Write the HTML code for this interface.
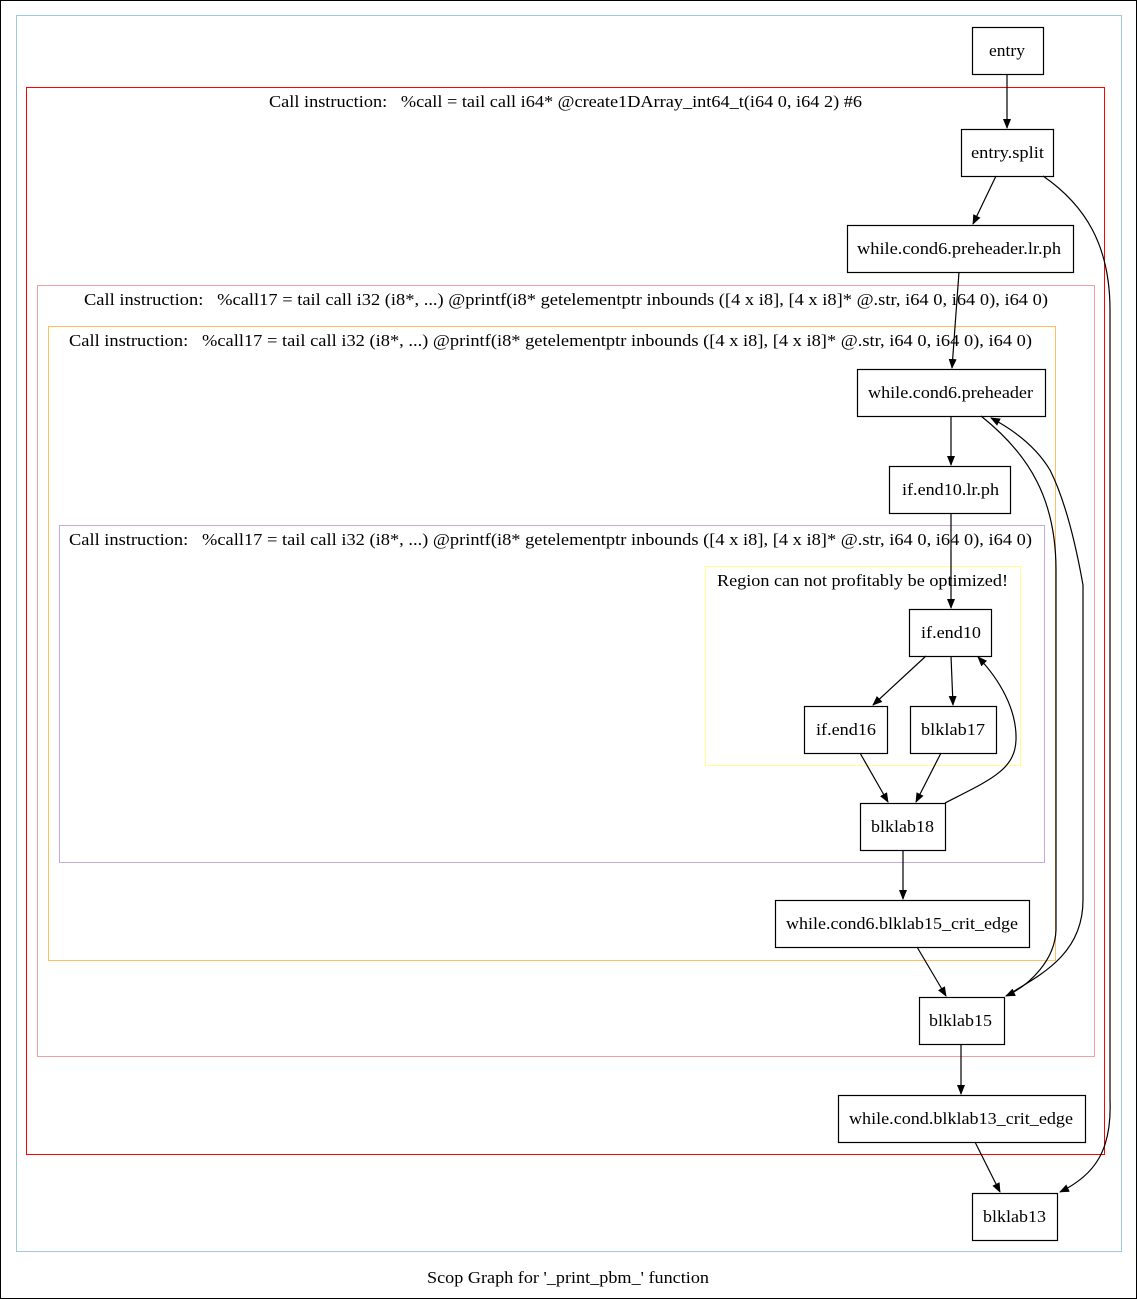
<!DOCTYPE html>
<html><head><meta charset="utf-8"><style>
html,body{margin:0;padding:0;background:#fff;}
svg{display:block;}
text{font-family:"Liberation Serif",serif;font-size:17px;fill:#000;white-space:pre;}
</style></head><body>
<svg width="1137" height="1299" viewBox="0 0 1137 1299" xmlns="http://www.w3.org/2000/svg" xml:space="preserve">
<defs><marker id="a" markerWidth="10" markerHeight="8" refX="9" refY="4" orient="auto" markerUnits="userSpaceOnUse"><path d="M0,0 L10,4 L0,8 z" fill="#000"/></marker></defs>
<rect x="0.5" y="0.5" width="1136" height="1298" fill="#fff" stroke="#000"/>
<rect x="16.5" y="15.5" width="1105" height="1236" fill="none" stroke="#9ecae1"/>
<rect x="26.5" y="87.5" width="1078" height="1067" fill="none" stroke="#ff0000"/>
<text x="269" y="107" textLength="593" lengthAdjust="spacingAndGlyphs">Call instruction:   %call = tail call i64* @create1DArray_int64_t(i64 0, i64 2) #6</text>
<rect x="37.5" y="285.5" width="1057" height="771" fill="none" stroke="#f0a0a0"/>
<text x="84" y="305" textLength="964" lengthAdjust="spacingAndGlyphs">Call instruction:   %call17 = tail call i32 (i8*, ...) @printf(i8* getelementptr inbounds ([4 x i8], [4 x i8]* @.str, i64 0, i64 0), i64 0)</text>
<rect x="48.5" y="326.5" width="1007" height="634" fill="none" stroke="#ffc060"/>
<text x="69" y="346" textLength="963" lengthAdjust="spacingAndGlyphs">Call instruction:   %call17 = tail call i32 (i8*, ...) @printf(i8* getelementptr inbounds ([4 x i8], [4 x i8]* @.str, i64 0, i64 0), i64 0)</text>
<rect x="59.5" y="525.5" width="985" height="337" fill="none" stroke="#c8a8e0"/>
<text x="69" y="545" textLength="963" lengthAdjust="spacingAndGlyphs">Call instruction:   %call17 = tail call i32 (i8*, ...) @printf(i8* getelementptr inbounds ([4 x i8], [4 x i8]* @.str, i64 0, i64 0), i64 0)</text>
<rect x="705.5" y="566.5" width="315" height="199" fill="none" stroke="#ffff90"/>
<text x="717" y="586" textLength="291" lengthAdjust="spacingAndGlyphs">Region can not profitably be optimized!</text>

<g fill="none" stroke="#000" stroke-width="1.2">
<rect x="972.5" y="27.5" width="71" height="47"/>
<rect x="961.5" y="129.5" width="92" height="47"/>
<rect x="847.5" y="225.5" width="226" height="47"/>
<rect x="857.5" y="369.5" width="188" height="47"/>
<rect x="889.5" y="466.5" width="121" height="47"/>
<rect x="909.5" y="609.5" width="82" height="47"/>
<rect x="804.5" y="706.5" width="83" height="47"/>
<rect x="910.5" y="706.5" width="86" height="47"/>
<rect x="860.5" y="803.5" width="85" height="47"/>
<rect x="775.5" y="900.5" width="254" height="47"/>
<rect x="919.5" y="997.5" width="85" height="47"/>
<rect x="838.5" y="1095.5" width="247" height="47"/>
<rect x="972.5" y="1193.5" width="85" height="47"/>
</g>
<g lengthAdjust="spacingAndGlyphs">
<text x="989" y="56" textLength="36" lengthAdjust="spacingAndGlyphs">entry</text>
<text x="971" y="158" textLength="73" lengthAdjust="spacingAndGlyphs">entry.split</text>
<text x="857" y="254" textLength="204" lengthAdjust="spacingAndGlyphs">while.cond6.preheader.lr.ph</text>
<text x="868" y="398" textLength="165" lengthAdjust="spacingAndGlyphs">while.cond6.preheader</text>
<text x="902" y="495" textLength="97" lengthAdjust="spacingAndGlyphs">if.end10.lr.ph</text>
<text x="921" y="638" textLength="60" lengthAdjust="spacingAndGlyphs">if.end10</text>
<text x="816" y="735" textLength="60" lengthAdjust="spacingAndGlyphs">if.end16</text>
<text x="921" y="735" textLength="64" lengthAdjust="spacingAndGlyphs">blklab17</text>
<text x="871" y="832" textLength="63" lengthAdjust="spacingAndGlyphs">blklab18</text>
<text x="786" y="929" textLength="232" lengthAdjust="spacingAndGlyphs">while.cond6.blklab15_crit_edge</text>
<text x="929" y="1026" textLength="63" lengthAdjust="spacingAndGlyphs">blklab15</text>
<text x="849" y="1124" textLength="224" lengthAdjust="spacingAndGlyphs">while.cond.blklab13_crit_edge</text>
<text x="983" y="1222" textLength="63" lengthAdjust="spacingAndGlyphs">blklab13</text>
<text x="427" y="1283" textLength="282" lengthAdjust="spacingAndGlyphs">Scop Graph for '_print_pbm_' function</text>
</g>
<g fill="none" stroke="#000" stroke-width="1.2" marker-end="url(#a)">
<path d="M1007,74 L1007,128"/>
<path d="M996,176 L973,224"/>
<path d="M1043,176 C1085,205 1110,245 1110,310 L1110,1100 C1112,1150 1095,1175 1060,1192"/>
<path d="M959,272 L952,368"/>
<path d="M951,416 L951,465"/>
<path d="M951,513 L951,608"/>
<path d="M926,656 L873,705"/>
<path d="M951,656 L953,705"/>
<path d="M860,753 L888,802"/>
<path d="M941,753 L916,802"/>
<path d="M945,803 C990,780 1015,770 1016,740 C1017,710 1000,680 978,657"/>
<path d="M903,850 L903,899"/>
<path d="M917,947 L946,996"/>
<path d="M961,1044 L961,1094"/>
<path d="M975,1142 L1000,1192"/>
<path d="M981,416 C1030,455 1056,500 1056,570 L1056,930 C1055,960 1030,985 1006,996"/>
<path d="M1006,996 C1040,975 1083,955 1083,900 L1083,585 C1075,540 1065,500 1050,470 C1035,445 1010,428 991,418"/>
</g>
</svg>
</body></html>
